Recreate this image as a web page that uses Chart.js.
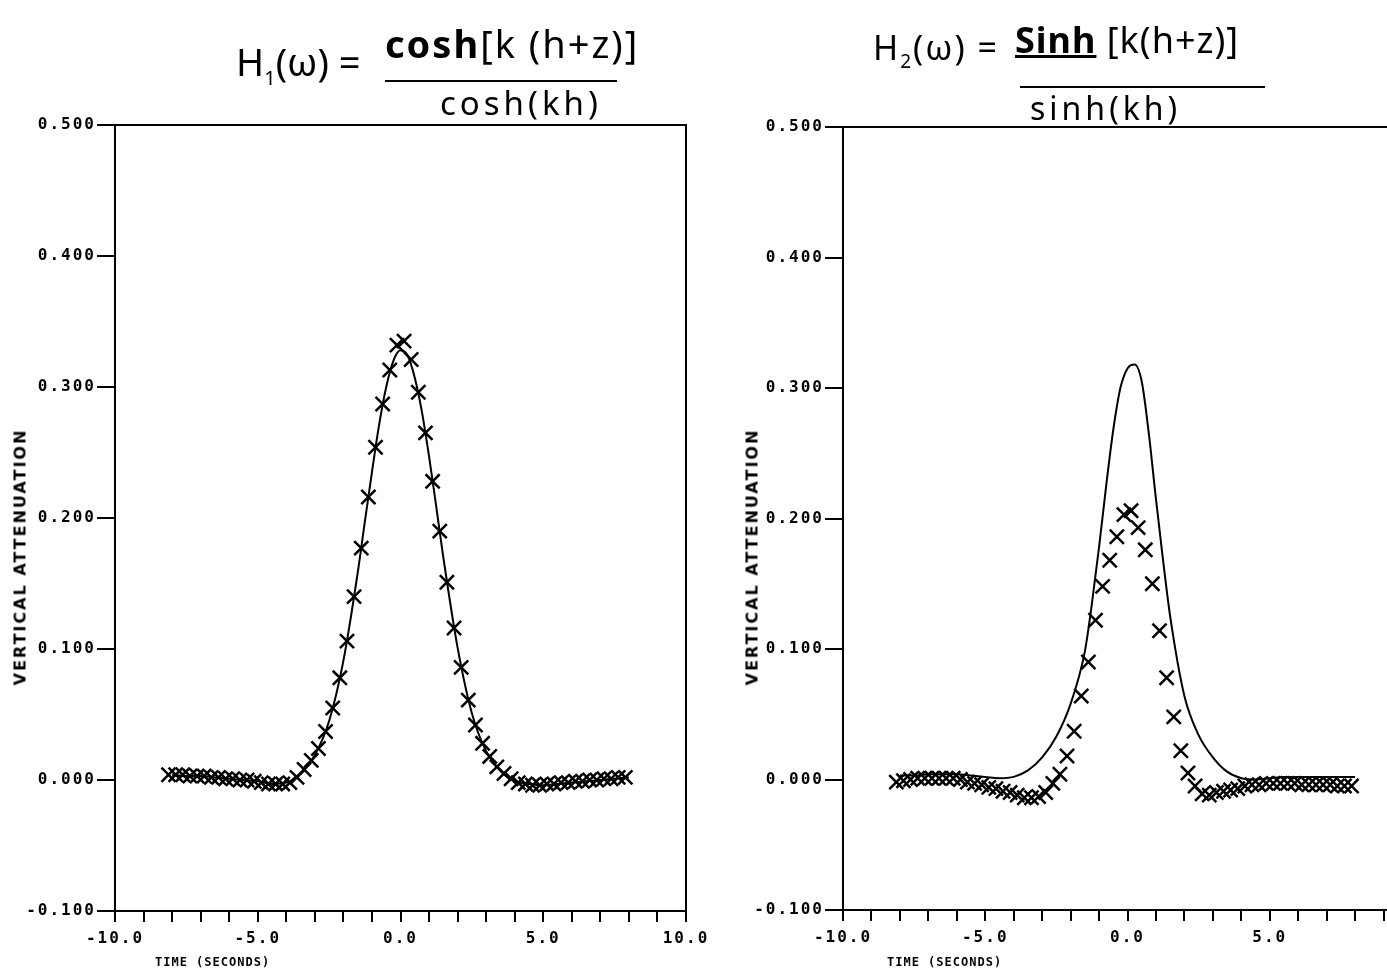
<!DOCTYPE html>
<html>
<head>
<meta charset="utf-8">
<title>Vertical attenuation</title>
<script src="https://cdn.jsdelivr.net/npm/chart.js@4.4.1/dist/chart.umd.min.js"></script>
<style>
  html, body { margin:0; padding:0; background:#fff; overflow:hidden; }
  #wrap { position:relative; width:1387px; height:974px; overflow:hidden; background:#fff; }
  canvas { position:absolute; top:0; }
  #left { left:0; }
  #right { left:728px; }
  .hand { position:absolute; font-family:"Noto Sans", sans-serif; color:#000; white-space:nowrap; line-height:1; }
  .fracline { position:absolute; height:0; border-top:2px solid #000; }
  .ytitle { position:absolute; font:bold 16px "DejaVu Sans", sans-serif; letter-spacing:2px; white-space:nowrap;
            transform:translate(-50%,-50%) rotate(-90deg); }
  .xtitle { position:absolute; font:bold 12px "DejaVu Sans Mono", monospace; letter-spacing:1px; white-space:nowrap; }
</style>
</head>
<body>
<div id="wrap">
  <canvas id="left" width="728" height="974"></canvas>
  <canvas id="right" width="700" height="974"></canvas>

  <!-- handwritten transfer functions -->
  <div class="hand" style="left:236px;top:42px;font-size:38px;">H<sub style="font-size:20px">1</sub>(ω) =</div>
  <div class="hand" style="left:385px;top:24px;font-size:38px;letter-spacing:2px;"><b>cosh</b>[k (h+z)]</div>
  <div class="fracline" style="left:385px;top:80px;width:232px;"></div>
  <div class="hand" style="left:440px;top:86px;font-size:33px;letter-spacing:4px;">cosh(kh)</div>

  <div class="hand" style="left:873px;top:30px;font-size:34px;letter-spacing:2px;">H<sub style="font-size:19px">2</sub>(ω) =</div>
  <div class="hand" style="left:1015px;top:22px;font-size:36px;letter-spacing:1px;"><b><u>Sinh</u></b> [k(h+z)]</div>
  <div class="fracline" style="left:1020px;top:86px;width:245px;"></div>
  <div class="hand" style="left:1030px;top:92px;font-size:32px;letter-spacing:4px;">sinh(kh)</div>

  <div class="ytitle" style="left:20px;top:557px;">VERTICAL ATTENUATION</div>
  <div class="ytitle" style="left:752px;top:557px;">VERTICAL ATTENUATION</div>
  <div class="xtitle" style="left:155px;top:955px;">TIME (SECONDS)</div>
  <div class="xtitle" style="left:887px;top:955px;">TIME (SECONDS)</div>
</div>

<script>
// time of the solid curve (seconds), finer round the peak
var lineTimes = [-8, -7.5, -7, -6.5, -6, -5.5, -5, -4.5, -4, -3.5, -3, -2.5, -2, -1.5,
                 -1.25, -1, -0.75, -0.5, -0.25, 0, 0.25, 0.5, 0.75, 1, 1.25, 1.5,
                 2, 2.5, 3, 3.5, 4, 4.5, 5, 5.5, 6, 6.5, 7, 7.5, 8];
// time of the x markers (seconds)
var markTimes = [-8.125, -7.875, -7.625, -7.375, -7.125, -6.875, -6.625, -6.375, -6.125, -5.875, -5.625,
                 -5.375, -5.125, -4.875, -4.625, -4.375, -4.125, -3.875, -3.625, -3.375, -3.125, -2.875,
                 -2.625, -2.375, -2.125, -1.875, -1.625, -1.375, -1.125, -0.875, -0.625, -0.375, -0.125,
                 0.125, 0.375, 0.625, 0.875, 1.125, 1.375, 1.625, 1.875, 2.125, 2.375, 2.625, 2.875,
                 3.125, 3.375, 3.625, 3.875, 4.125, 4.375, 4.625, 4.875, 5.125, 5.375, 5.625, 5.875,
                 6.125, 6.375, 6.625, 6.875, 7.125, 7.375, 7.625, 7.875];

// H1 = cosh[k(h+z)]/cosh(kh)
var coshLine = [0.004, 0.003, 0.003, 0.002, 0.001, 0.000, -0.001, -0.003, -0.002, 0.005, 0.019, 0.045, 0.091, 0.158,
                0.197, 0.235, 0.271, 0.300, 0.320, 0.328, 0.324, 0.307, 0.281, 0.247, 0.209, 0.170,
                0.101, 0.051, 0.022, 0.007, -0.001, -0.003, -0.004, -0.003, -0.002, -0.001, 0.000, 0.001, 0.002];
var coshMarks = [0.004, 0.004, 0.004, 0.003, 0.003, 0.003, 0.002, 0.002, 0.001, 0.001, 0.000, 0.000,
                 -0.001, -0.002, -0.003, -0.003, -0.003, -0.002, 0.002, 0.008, 0.015, 0.024, 0.037,
                 0.055, 0.078, 0.106, 0.140, 0.177, 0.216, 0.254, 0.287, 0.313, 0.332,
                 0.335, 0.321, 0.296, 0.265, 0.228, 0.190, 0.151, 0.116, 0.086, 0.061, 0.042, 0.028,
                 0.018, 0.010, 0.005, 0.001, -0.002, -0.003, -0.004, -0.004, -0.003, -0.003, -0.002,
                 -0.002, -0.001, -0.001, 0.000, 0.000, 0.001, 0.001, 0.002, 0.002];

// H2 = sinh[k(h+z)]/sinh(kh)
var sinhLine = [0.003, 0.003, 0.004, 0.004, 0.004, 0.003, 0.002, 0.001, 0.002, 0.007, 0.017, 0.033, 0.058, 0.098,
                0.135, 0.178, 0.225, 0.268, 0.300, 0.315, 0.318, 0.305, 0.265, 0.215, 0.168, 0.125,
                0.064, 0.034, 0.017, 0.006, 0.001, 0.000, 0.001, 0.002, 0.002, 0.002, 0.002, 0.002, 0.002];
var sinhMarks = [-0.002, -0.001, 0.000, 0.001, 0.001, 0.001, 0.001, 0.001, 0.001, 0.000, -0.002, -0.003,
                 -0.004, -0.006, -0.007, -0.009, -0.010, -0.012, -0.014, -0.014, -0.013, -0.010, -0.003,
                 0.004, 0.018, 0.037, 0.064, 0.090, 0.122, 0.148, 0.168, 0.186, 0.203,
                 0.206, 0.193, 0.176, 0.150, 0.114, 0.078, 0.048, 0.022, 0.005, -0.005, -0.011, -0.012,
                 -0.010, -0.009, -0.008, -0.007, -0.005, -0.004, -0.004, -0.003, -0.003, -0.003, -0.003,
                 -0.003, -0.004, -0.004, -0.004, -0.004, -0.004, -0.005, -0.005, -0.005];

var yMin = -0.1, yMax = 0.5, yStep = 0.1;
var xMin = -10, xMax = 10, xStep = 1, xLabelEvery = 5;

function pairs(times, vals) {
  return times.map(function (t, i) { return { x: t, y: vals[i] }; });
}

// frame round the plot + wide-spaced printer lettering
var framePlugin = {
  id: 'frame',
  beforeDraw: function (chart) { chart.ctx.letterSpacing = '2px'; },
  beforeDatasetsDraw: function (chart) {
    var a = chart.chartArea, c = chart.ctx;
    c.save();
    c.strokeStyle = '#000';
    c.lineWidth = 2;
    c.strokeRect(a.left, a.top, a.right - a.left, a.bottom - a.top);
    c.restore();
  },
  afterDraw: function (chart) { chart.ctx.letterSpacing = '0px'; }
};

function makeChart(id, lineVals, markVals, box) {
  var ctx = document.getElementById(id).getContext('2d');
  return new Chart(ctx, {
    type: 'scatter',
    data: {
      datasets: [{
        label: 'computed',
        data: pairs(lineTimes, lineVals),
        showLine: true,
        pointRadius: 0,
        borderColor: '#000',
        borderWidth: 2,
        cubicInterpolationMode: 'monotone',
        order: 2
      }, {
        label: 'measured',
        data: pairs(markTimes, markVals),
        showLine: false,
        pointStyle: 'crossRot',
        pointRadius: 10,
        borderColor: '#000',
        backgroundColor: '#000',
        borderWidth: 2.5,
        order: 1
      }]
    },
    options: {
      responsive: false,
      animation: false,
      events: [],
      layout: { padding: { top: box.top, right: box.right, bottom: 0, left: 0 } },
      plugins: { legend: { display: false }, tooltip: { enabled: false } },
      scales: {
        x: {
          type: 'linear', min: xMin, max: xMax,
          afterFit: function (s) { s.height = box.xHeight; s.paddingLeft = 0; s.paddingRight = 0; },
          border: { display: true, color: '#000', width: 2 },
          grid: { drawOnChartArea: false, drawTicks: true, tickLength: 11, color: '#000', lineWidth: 2 },
          ticks: {
            stepSize: xStep, autoSkip: false, maxRotation: 0, padding: 7, color: '#000',
            font: { family: 'DejaVu Sans Mono', size: 16, weight: 'bold' },
            callback: function (v) { return (Math.round(v) % xLabelEvery === 0) ? v.toFixed(1) : ''; }
          }
        },
        y: {
          min: yMin, max: yMax,
          afterFit: function (s) { s.width = 115; s.paddingTop = 0; s.paddingBottom = 0; },
          border: { display: true, color: '#000', width: 2 },
          grid: { drawOnChartArea: false, drawTicks: true, tickLength: 18, color: '#000', lineWidth: 2 },
          ticks: {
            stepSize: yStep, padding: 1, color: '#000',
            font: { family: 'DejaVu Sans Mono', size: 16, weight: 'bold' },
            callback: function (v) { return Math.abs(v) < 1e-9 ? '0.000' : v.toFixed(3); }
          }
        }
      }
    },
    plugins: [framePlugin]
  });
}

makeChart('left', coshLine, coshMarks, { top: 125, right: 42, xHeight: 63 });
makeChart('right', sinhLine, sinhMarks, { top: 127, right: 16, xHeight: 64 });
</script>
</body>
</html>
